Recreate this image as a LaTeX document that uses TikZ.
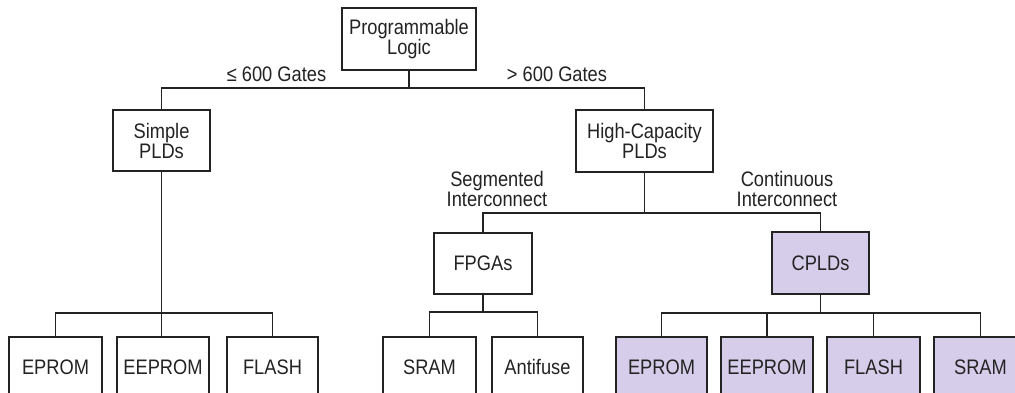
\documentclass[tikz,border=0pt]{standalone}
\usepackage{fontspec}
\setmainfont{Liberation Sans}[FakeStretch=0.87]
\definecolor{lav}{RGB}{214,205,235}
\definecolor{ink}{RGB}{35,35,35}
\begin{document}
\begin{tikzpicture}[x=1pt,y=-1pt,
  every node/.style={font=\fontsize{21}{20}\selectfont, text=ink},
  box/.style={draw=ink, line width=1.9pt, rectangle, inner sep=0pt, align=center},
  cbox/.style={box, fill=lav},
  lbl/.style={align=center, inner sep=0pt},
  conn/.style={draw=ink, line width=1.9pt}]
\useasboundingbox (0,0) rectangle (1015,393);
\clip (0,0) rectangle (1015,393);
\fill[white] (0,0) rectangle (1015,393);

% level 0
\node[box, minimum width=134pt, minimum height=62pt] (PL) at (409,39) {Programmable\\Logic};
% level 1
\node[box, minimum width=97pt, minimum height=61pt] (SP) at (161.5,140.5) {Simple\\PLDs};
\node[box, minimum width=137pt, minimum height=62pt] (HC) at (644.5,141) {High-Capacity\\PLDs};
% level 2
\node[box, minimum width=98pt, minimum height=61pt] (FP) at (483,263.5) {FPGAs};
\node[cbox, minimum width=97pt, minimum height=62pt] (CP) at (820.5,263) {CPLDs};
% level 3
\node[box, minimum width=93pt, minimum height=60pt] (E1) at (55.5,367) {EPROM};
\node[box, minimum width=92pt, minimum height=60pt] (EE1) at (163,367) {EEPROM};
\node[box, minimum width=91pt, minimum height=60pt] (F1) at (272.5,367) {FLASH};
\node[box, minimum width=93pt, minimum height=60pt] (S1) at (429.5,367) {SRAM};
\node[box, minimum width=91pt, minimum height=60pt] (A1) at (537.5,367) {Antifuse};
\node[cbox, minimum width=91pt, minimum height=60pt] (E2) at (661.5,367) {EPROM};
\node[cbox, minimum width=92pt, minimum height=60pt] (EE2) at (767,367) {EEPROM};
\node[cbox, minimum width=93pt, minimum height=60pt] (F2) at (873.5,367) {FLASH};
\node[cbox, minimum width=93pt, minimum height=60pt] (S2) at (980.5,367) {SRAM};

% labels
\node[lbl] (l1) at (276.5,74) {≤ 600 Gates};
\node[lbl] (l2) at (557,74) {> 600 Gates};
\node[lbl] (l3) at (497,189) {Segmented\\Interconnect};
\node[lbl] (l4) at (787,189) {Continuous\\Interconnect};

% bus coordinates
\coordinate (b1) at (0,88);
\coordinate (b2) at (0,213);
\coordinate (b3) at (0,313);
\coordinate (b4) at (0,312);

% connectors
\draw[conn] (PL.south) -- (PL.south |- b1);
\draw[conn] (SP.north) -- (SP.north |- b1) -- (HC.north |- b1) -- (HC.north);

\draw[conn] (SP.south) -- (SP.south |- E1.north);
\draw[conn] (E1.north) -- (E1.north |- b3) -- (F1.north |- b3) -- (F1.north);

\draw[conn] (HC.south) -- (HC.south |- b2);
\draw[conn] (FP.north) -- (FP.north |- b2) -- (CP.north |- b2) -- (CP.north);

\draw[conn] (FP.south) -- (FP.south |- b4);
\draw[conn] (S1.north) -- (S1.north |- b4) -- (A1.north |- b4) -- (A1.north);

\draw[conn] (CP.south) -- (CP.south |- b3);
\draw[conn] (E2.north) -- (E2.north |- b3) -- (S2.north |- b3) -- (S2.north);
\draw[conn] (EE2.north) -- (EE2.north |- b3);
\draw[conn] (F2.north) -- (F2.north |- b3);
\end{tikzpicture}
\end{document}
